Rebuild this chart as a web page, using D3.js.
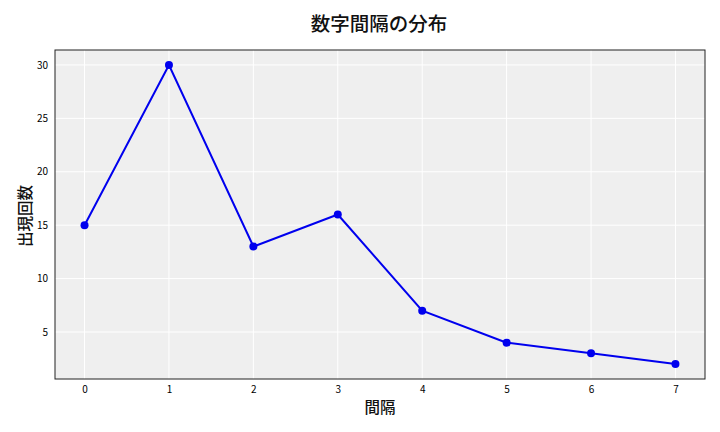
<!DOCTYPE html>
<html><head><meta charset="utf-8">
<script src="https://cdn.jsdelivr.net/npm/d3@7"></script>
<style>body{margin:0;background:#fff;} text{font-family:"Noto Sans CJK JP","Noto Sans",sans-serif;}</style>
</head><body>
<svg id="c" width="720" height="432"></svg>
<script>
const categories = [0,1,2,3,4,5,6,7];
const counts = [15,30,13,16,7,4,3,2];
const yTicks = [5,10,15,20,25,30];
const title = "数字間隔の分布";
const xLabel = "間隔";
const yLabel = "出現回数";

const svg = d3.select("#c");
const L=55,R=705,T=50,B=379;
const x = d3.scaleLinear().domain([-0.35,7.35]).range([L,R]);
const y = d3.scaleLinear().domain([0.6,31.4]).range([B,T]);

svg.append("rect").attr("x",L).attr("y",T).attr("width",R-L).attr("height",B-T).attr("fill","#efefef");
// grid
svg.append("g").selectAll("line").data(categories).join("line")
 .attr("x1",d=>x(d)).attr("x2",d=>x(d)).attr("y1",T).attr("y2",B)
 .attr("stroke","#fff").attr("stroke-width",1);
svg.append("g").selectAll("line").data(yTicks).join("line")
 .attr("y1",d=>y(d)).attr("y2",d=>y(d)).attr("x1",L).attr("x2",R)
 .attr("stroke","#fff").attr("stroke-width",1);

const xa = svg.append("g").attr("transform",`translate(0,${B})`)
 .call(d3.axisBottom(x).tickValues(categories).tickSize(0).tickPadding(7).tickFormat(d3.format("d")));
const ya = svg.append("g").attr("transform",`translate(${L},0)`)
 .call(d3.axisLeft(y).tickValues(yTicks).tickSize(0).tickPadding(7));
[xa,ya].forEach(a=>{a.select(".domain").remove();a.selectAll("text").attr("font-size",10).attr("fill","#000").style("font-family","'Noto Sans CJK JP',sans-serif");});

svg.append("rect").attr("x",L).attr("y",T).attr("width",R-L).attr("height",B-T)
 .attr("fill","none").attr("stroke","#222").attr("stroke-width",1);

const line = d3.line().x((d,i)=>x(categories[i])).y(d=>y(d));
svg.append("path").datum(counts).attr("d",line).attr("fill","none").attr("stroke","#0000ee").attr("stroke-width",2);
svg.append("g").selectAll("circle").data(counts).join("circle")
 .attr("cx",(d,i)=>x(categories[i])).attr("cy",d=>y(d)).attr("r",4).attr("fill","#0000ee");

svg.append("text").attr("x",379).attr("y",31).attr("text-anchor","middle").attr("font-size",19.5).attr("font-weight",500).attr("fill","#111").text(title);
svg.append("text").attr("x",380).attr("y",413).attr("text-anchor","middle").attr("font-size",15.5).attr("font-weight",500).attr("fill","#111").text(xLabel);
svg.append("text").attr("transform",`translate(30.5,216) rotate(-90)`).attr("text-anchor","middle").attr("font-size",15.5).attr("font-weight",500).attr("fill","#111").text(yLabel);
</script>
</body></html>
